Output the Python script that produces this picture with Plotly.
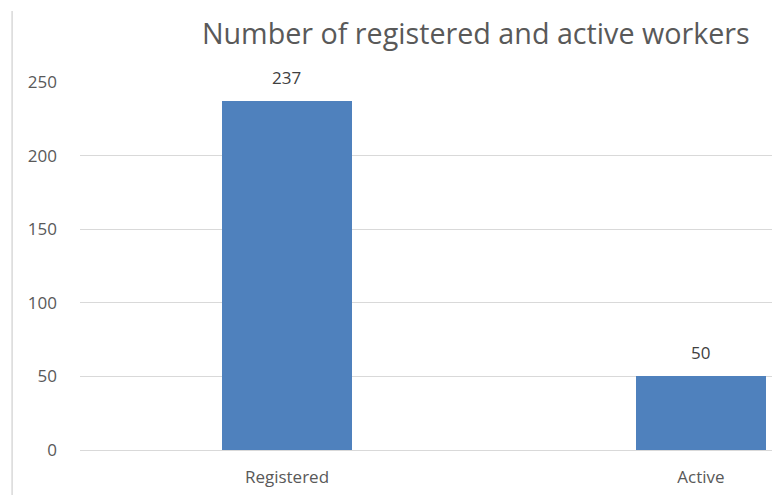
import plotly.graph_objects as go

categories = ["Registered", "Active"]
values = [237, 50]
y_ticks = [0, 50, 100, 150, 200, 250]
title_text = "Number of registered and active workers"

FONT = "Open Sans"
GREY = "#595959"

fig = go.Figure()
fig.add_trace(go.Bar(
    x=categories, y=values,
    marker=dict(color="#4f81bd", line=dict(width=0)),
    width=0.314,
    hoverinfo="x+y",
))

for c, v in zip(categories, values):
    fig.add_annotation(x=c, y=v, text=str(v), showarrow=False,
                       yanchor="bottom", yshift=10,
                       font=dict(family=FONT, size=17, color="#404040"))

fig.add_shape(type="line", xref="paper", yref="paper",
              x0=-0.097, x1=-0.097, y0=-0.13, y1=1.193,
              line=dict(color="#d9d9d9", width=1.5))

fig.update_layout(
    width=772, height=487,
    margin=dict(l=72, r=0, t=74, b=45),
    paper_bgcolor="white", plot_bgcolor="white",
    showlegend=False,
    title=dict(text=title_text, x=0.606, xanchor="center", y=0.947, yanchor="middle",
               font=dict(family=FONT, size=28.7, color=GREY)),
    bargap=0,
)
fig.update_xaxes(range=[-0.5, 1.191], showgrid=False, showline=False, zeroline=False,
                 tickfont=dict(family=FONT, size=17, color=GREY), ticks="",
                 ticklabelstandoff=15)
fig.update_yaxes(range=[0, 250], tickvals=y_ticks, showgrid=True, gridcolor="#d9d9d9",
                 gridwidth=1, zeroline=True, zerolinecolor="#d9d9d9", zerolinewidth=1,
                 showline=False, ticks="", tickfont=dict(family=FONT, size=17, color=GREY),
                 ticklabelstandoff=22)

fig.write_html("out.html")
